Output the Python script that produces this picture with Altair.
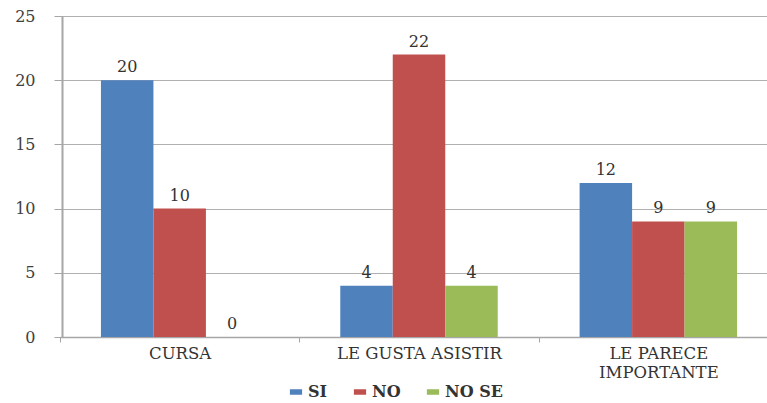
import altair as alt
import pandas as pd

categories = ["CURSA", "LE GUSTA ASISTIR", "LE PARECE IMPORTANTE"]
series = ["SI", "NO", "NO SE"]
si_values = [20, 4, 12]
no_values = [10, 22, 9]
nose_values = [0, 4, 9]
colors = ["#4F81BD", "#C0504D", "#9BBB59"]
y_ticks = [0, 5, 10, 15, 20, 25]

rows = []
for i, c in enumerate(categories):
    for s, vals in zip(series, [si_values, no_values, nose_values]):
        rows.append({"cat": c, "serie": s, "val": vals[i]})
df = pd.DataFrame(rows)

FONT = "DejaVu Serif"

x_enc = alt.X("cat:N", sort=categories, title=None,
              scale=alt.Scale(range=[-2, 716], paddingInner=0, paddingOuter=0),
              axis=alt.Axis(labelAngle=0, tickBand="extent", labelFont=FONT, labelFontSize=16.5,
                            labelColor="#333333", labelPadding=3, labelBaseline="top",
                            labelLineHeight=19,
                            labelExpr="datum.label == 'LE PARECE IMPORTANTE' ? ['LE PARECE', 'IMPORTANTE'] : datum.label",
                            domainColor="#a6a6a6", domainWidth=1.5, tickColor="#a6a6a6",
                            tickSize=5, grid=False))
xoff = alt.XOffset("serie:N", sort=series,
                   scale=alt.Scale(paddingInner=0, paddingOuter=0.78))

bars = alt.Chart(df).mark_bar().encode(
    x=x_enc,
    xOffset=xoff,
    y=alt.Y("val:Q", title=None,
            scale=alt.Scale(domain=[0, 25], nice=False),
            axis=alt.Axis(values=y_ticks, labelFont=FONT, labelFontSize=16,
                          labelColor="#404040", labelPadding=19, tickSize=8,
                          tickColor="#a6a6a6", domainColor="#a6a6a6", domainWidth=2,
                          gridColor="#b0b0b0", gridWidth=1)),
    color=alt.Color("serie:N", sort=series,
                    scale=alt.Scale(domain=series, range=colors),
                    legend=alt.Legend(title=None, orient="none", direction="horizontal",
                                      legendX=226, legendY=368,
                                      symbolType="M-1,-0.45H1V0.45H-1Z", symbolSize=150,
                                      symbolStrokeWidth=0, labelFont=FONT, labelFontSize=16,
                                      labelFontWeight="bold", labelColor="#333333",
                                      labelOffset=4, columnPadding=24)),
)

labels = alt.Chart(df).mark_text(dy=-5, baseline="bottom", font=FONT, fontSize=16,
                                 color="#333333").encode(
    x=alt.X("cat:N", sort=categories),
    xOffset=xoff,
    y="val:Q",
    text="val:Q",
)

chart = alt.layer(bars, labels).properties(
    width=705, height=321,
    autosize=alt.AutoSizeParams(type="none"),
    padding={"left": 62, "top": 16, "right": 0, "bottom": 66},
).configure_view(stroke=None).configure(background="white", font=FONT)

chart.save("out.html", embed_options={"renderer": "svg", "actions": False})
